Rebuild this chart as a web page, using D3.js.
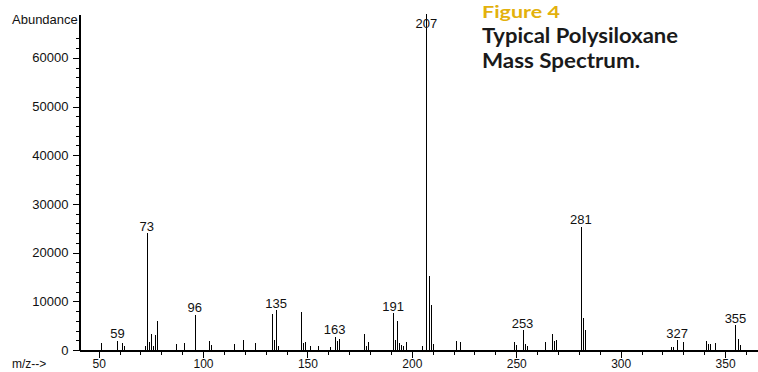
<!DOCTYPE html>
<html>
<head>
<meta charset="utf-8">
<script src="https://cdn.jsdelivr.net/npm/d3@7"></script>
<style>
  body { margin: 0; background: #fff; }
  svg { display: block; }
  .axis text { font-family: "Liberation Sans", Arial, sans-serif; font-size: 13px; fill: #111; }
  .x-axis text { font-size: 12px; }
</style>
</head>
<body>
<div id="chart"></div>
<script>
const width = 758;
const height = 372;

// ピーク位置 (m/z) と強度
const mzValues = [
  51, 59, 61, 62, 72, 73, 74, 75, 76, 77, 78, 87, 91, 96, 103, 104, 115, 119, 125,
  133, 134, 135, 136, 147, 148, 149, 151, 155, 161, 163, 164, 165, 177, 178, 179,
  191, 192, 193, 194, 195, 196, 197, 205, 207, 208, 209, 210, 221, 223,
  249, 250, 253, 254, 255, 264, 267, 268, 269, 281, 282, 283,
  324, 325, 327, 330, 341, 342, 343, 345, 355, 356, 357
];
const abundance = [
  1400, 1850, 1400, 800, 800, 24000, 1700, 3300, 800, 3100, 6000, 1200, 1400, 7200, 1900, 1000, 1300, 2000, 1400,
  7400, 2000, 8200, 800, 7900, 1500, 1700, 800, 800, 700, 2700, 1800, 2300, 3300, 800, 1700,
  7500, 2000, 6000, 1400, 1000, 800, 1700, 800, 69000, 15200, 9300, 1200, 1850, 1700,
  1700, 1000, 4100, 1200, 800, 1700, 3300, 1800, 2000, 25300, 6500, 4100,
  700, 700, 2050, 1650, 1850, 1200, 1200, 1400, 5100, 2200, 1000
];
const labeledPeaks = [59, 73, 96, 135, 163, 191, 207, 253, 281, 327, 355];

const xMajorTicks = [50, 100, 150, 200, 250, 300, 350];
const yMajorTicks = [0, 10000, 20000, 30000, 40000, 50000, 60000];

const peaks = mzValues.map((mz, i) => ({mz, value: abundance[i]}));

const svg = d3.select("#chart")
    .append("svg")
    .attr("width", width)
    .attr("height", height);

svg.append("rect").attr("width", width).attr("height", height).attr("fill", "#fff");

const x = d3.scaleLinear().domain([40.6, 365.3]).range([79, 757]);
const y = d3.scaleLinear().domain([0, 69000]).range([350, 14]);

// X軸 (小目盛り 10 ごと)
const xMinor = d3.range(50, 361, 10).filter(v => v % 50 !== 0);
svg.append("g")
    .attr("class", "axis")
    .attr("transform", "translate(0,350.5)")
    .call(d3.axisBottom(x).tickValues(xMinor).tickSize(4).tickSizeOuter(0).tickFormat(""));
svg.append("g")
    .attr("class", "axis x-axis")
    .attr("transform", "translate(0,350.5)")
    .call(d3.axisBottom(x).tickValues(xMajorTicks).tickSize(7).tickSizeOuter(0).tickPadding(2));

// Y軸 (小目盛り 2000 ごと)
const yMinor = d3.range(0, 64001, 2000).filter(v => v % 10000 !== 0);
svg.append("g")
    .attr("class", "axis")
    .attr("transform", "translate(79.5,0)")
    .call(d3.axisLeft(y).tickValues(yMinor).tickSize(4).tickSizeOuter(0).tickFormat(""));
svg.append("g")
    .attr("class", "axis")
    .attr("transform", "translate(79.5,0)")
    .call(d3.axisLeft(y).tickValues(yMajorTicks).tickSize(7).tickSizeOuter(0).tickPadding(4).tickFormat(d3.format("d")));

svg.selectAll(".axis path, .axis line").attr("stroke", "#000").attr("shape-rendering", "crispEdges");
svg.selectAll(".axis path").attr("stroke-width", 1.3);

// ピーク
svg.append("g")
    .selectAll("line")
    .data(peaks)
    .join("line")
    .attr("x1", d => Math.round(x(d.mz)) + 0.5)
    .attr("x2", d => Math.round(x(d.mz)) + 0.5)
    .attr("y1", y(0))
    .attr("y2", d => y(d.value))
    .attr("stroke", "#000")
    .attr("stroke-width", 1.2)
    .attr("shape-rendering", "crispEdges");

// ピークラベル
svg.append("g")
    .selectAll("text")
    .data(peaks.filter(d => labeledPeaks.includes(d.mz)))
    .join("text")
    .attr("x", d => x(d.mz))
    .attr("y", d => Math.max(y(d.value) - 2.5, 28))
    .attr("text-anchor", "middle")
    .attr("font-family", "Liberation Sans, Arial, sans-serif")
    .attr("font-size", 13)
    .attr("fill", "#111")
    .text(d => d.mz);

// 軸ラベル
svg.append("text")
    .attr("x", 12).attr("y", 24)
    .attr("font-family", "Liberation Sans, Arial, sans-serif")
    .attr("font-size", 13).attr("fill", "#111")
    .text("Abundance");
svg.append("text")
    .attr("x", 12).attr("y", 368)
    .attr("font-family", "Liberation Sans, Arial, sans-serif")
    .attr("font-size", 12).attr("fill", "#111")
    .text("m/z-->");

// タイトル
const title = svg.append("g").attr("font-family", "Lato, 'Open Sans', sans-serif").attr("font-weight", 700);
title.append("text")
    .attr("x", 482).attr("y", 18)
    .attr("font-size", 17.5).attr("fill", "#e3b10c")
    .attr("textLength", 78).attr("lengthAdjust", "spacingAndGlyphs")
    .text("Figure 4");
title.append("text")
    .attr("x", 482).attr("y", 43)
    .attr("font-size", 21).attr("fill", "#1a1a1a")
    .attr("textLength", 196).attr("lengthAdjust", "spacingAndGlyphs")
    .text("Typical Polysiloxane");
title.append("text")
    .attr("x", 482).attr("y", 68)
    .attr("font-size", 21).attr("fill", "#1a1a1a")
    .attr("textLength", 158).attr("lengthAdjust", "spacingAndGlyphs")
    .text("Mass Spectrum.");
</script>
</body>
</html>
